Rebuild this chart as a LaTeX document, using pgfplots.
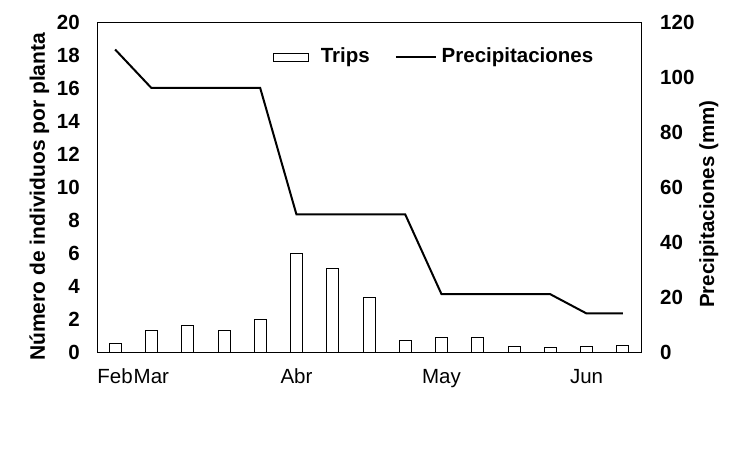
\documentclass[border=0pt]{standalone}
\usepackage{pgfplots}
\pgfplotsset{compat=1.18}
\usepackage{fontspec}
\setmainfont{Liberation Sans}
\begin{document}
\fontsize{20.5bp}{24bp}\selectfont
\begin{tikzpicture}
\useasboundingbox (0,0) rectangle (750bp,450bp);
\begin{axis}[
  at={(97bp,98bp)}, anchor=south west,
  scale only axis, width=544bp, height=330bp,
  xmin=0.5, xmax=15.5, ymin=0, ymax=20,
  xtick={1,2,6,10,14}, xticklabels={Feb,Mar,Abr,May,Jun},
  ytick={0,2,...,20},
  major tick length=0pt,
  axis line style={line width=0.8bp},
  /pgf/number format/assume math mode=true,
  xticklabel style={anchor=base, yshift=-32bp, inner sep=0pt},
  yticklabel style={anchor=east, inner sep=0pt, xshift=-17bp, font=\bfseries},
  ylabel={\fontsize{21bp}{24bp}\selectfont\bfseries Número de individuos por planta},
  ylabel style={at={(axis description cs:-0.0956,0.470)}, anchor=base},
  ybar, bar width=12bp,
]
\addplot[draw=black, fill=white, line width=0.75bp] coordinates {
(1,0.55) (2,1.29) (3,1.64) (4,1.29) (5,1.96) (6,6.0) (7,5.09) (8,3.33)
(9,0.69) (10,0.91) (11,0.91) (12,0.36) (13,0.30) (14,0.36) (15,0.42)};
\end{axis}
\begin{axis}[
  at={(97bp,98bp)}, anchor=south west,
  scale only axis, width=544bp, height=330bp,
  xmin=0.5, xmax=15.5, ymin=0, ymax=120,
  axis y line*=right, axis x line=none,
  ytick={0,20,...,120},
  major tick length=0pt,
  axis line style={line width=0.8bp},
  /pgf/number format/assume math mode=true,
  yticklabel style={anchor=west, inner sep=0pt, xshift=19bp, font=\bfseries},
  ylabel={\bfseries Precipitaciones (mm)},
  ylabel style={at={(axis description cs:1.1342,0.448)}, anchor=base},
  legend columns=2,
  legend style={at={(axis description cs:0.3235,0.894)}, anchor=west,
    draw=none, fill=none, font=\bfseries, inner sep=0pt,
    nodes={inner sep=0pt},
    /tikz/every odd column/.append style={column sep=5bp},
    /tikz/every even column/.append style={column sep=25bp}},
]
\addlegendimage{legend image code/.code={\draw[fill=white, line width=0.75bp] (0bp,-4bp) rectangle (35bp,4bp); \path (42bp,0bp);}}
\addlegendentry{Trips}
\addplot[black, line width=2bp, mark=none,
  legend image code/.code={\draw[line width=2bp] (0bp,0bp) -- (40bp,0bp);}] coordinates {
(1,110) (2,96) (3,96) (4,96) (5,96) (6,50) (7,50) (8,50)
(9,50) (10,21) (11,21) (12,21) (13,21) (14,14) (15,14)};
\addlegendentry{Precipitaciones}
\end{axis}
\end{tikzpicture}
\end{document}
